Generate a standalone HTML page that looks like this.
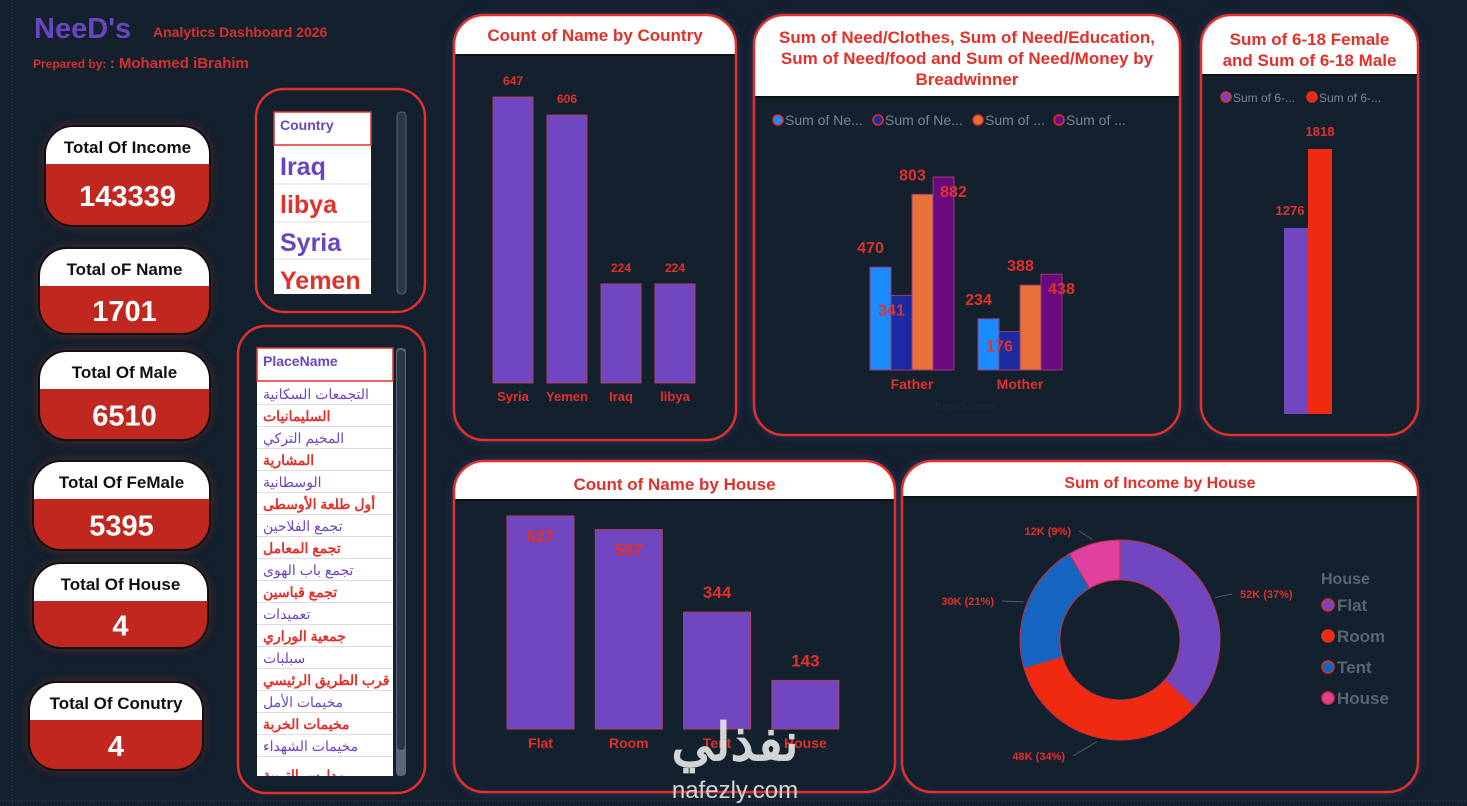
<!DOCTYPE html>
<html><head><meta charset="utf-8">
<style>
html,body{margin:0;padding:0;background:#13202d;width:1467px;height:806px;overflow:hidden;font-family:"Liberation Sans","Noto Sans CJK SC",sans-serif}
svg{display:block}
.t{font-family:"Liberation Sans","Noto Sans CJK SC",sans-serif;font-weight:bold}
</style></head>
<body>
<svg id="s" width="1467" height="806" viewBox="0 0 1467 806" xmlns="http://www.w3.org/2000/svg">
<defs>
<filter id="glow" x="-20%" y="-20%" width="140%" height="140%"><feGaussianBlur stdDeviation="5"/></filter>
</defs>
<rect x="0" y="0" width="1467" height="806" fill="#13202d"/>
<line x1="12" y1="0" x2="12" y2="806" stroke="#3a4a5a" stroke-dasharray="1 2"/>
<line x1="0" y1="801" x2="1467" y2="801" stroke="#3a4a5a" stroke-dasharray="1 2"/>

<!-- header -->
<g>
<line x1="372" y1="5" x2="372" y2="85" stroke="#c0302a" stroke-width="6" opacity="0.5" filter="url(#glow)"/>
<line x1="30" y1="90" x2="372" y2="90" stroke="#c0302a" stroke-width="6" opacity="0.5" filter="url(#glow)"/>
<text x="34" y="38" class="t" font-size="29" fill="#6a45c2">NeeD's</text>
<text x="153" y="37" class="t" font-size="14" fill="#d8302a">Analytics Dashboard 2026</text>
<text x="33" y="68" class="t" font-size="12" fill="#d8302a">Prepared by: <tspan font-size="15">: Mohamed iBrahim</tspan></text>
</g>

<g id="kpis"></g>

<!-- country slicer -->
<g>
<rect x="256" y="89" width="169" height="223" rx="28" fill="#13202d" stroke="#e2302a" stroke-width="2.5"/>
<rect x="274" y="112" width="97" height="182" fill="#fff"/>
<rect x="274" y="112" width="97" height="33" fill="#fff" stroke="#e2302a" stroke-width="1.5"/>
<text x="280" y="130" class="t" font-size="14" fill="#6a45c2">Country</text>
<text x="280" y="175" class="t" font-size="25" fill="#6a45c2">Iraq</text>
<line x1="274" y1="184" x2="371" y2="184" stroke="#ddd"/>
<text x="280" y="213" class="t" font-size="25" fill="#e2302a">libya</text>
<line x1="274" y1="222" x2="371" y2="222" stroke="#ddd"/>
<text x="280" y="251" class="t" font-size="25" fill="#6a45c2">Syria</text>
<line x1="274" y1="259" x2="371" y2="259" stroke="#ddd"/>
<text x="280" y="289" class="t" font-size="25" fill="#e2302a">Yemen</text>
<rect x="397" y="112" width="9" height="182" rx="4" fill="#2a3744" stroke="#5a6874"/>
</g>

<!-- place slicer -->
<g>
<rect x="238" y="326" width="187" height="467" rx="28" fill="#13202d" stroke="#e2302a" stroke-width="2.5"/>
<rect x="257" y="348" width="136" height="428" fill="#fff"/>
<rect x="257" y="348" width="136" height="33" fill="#fff" stroke="#e2302a" stroke-width="1.5"/>
<text x="263" y="366" class="t" font-size="14" fill="#6a45c2">PlaceName</text>
<g id="places"></g>
<rect x="396" y="348" width="10" height="428" rx="4" fill="#5a6874"/>
<rect x="397" y="350" width="8" height="400" rx="4" fill="#2a3744"/>
</g>

<g id="charts"></g>

<!-- watermark -->
<g opacity="0.9">
<text x="735" y="760" text-anchor="middle" font-size="52" font-weight="bold" fill="#e8e8e8" font-family="'Liberation Sans','Noto Sans CJK SC',sans-serif">نفذلي</text>
<text x="735" y="798" text-anchor="middle" font-size="24" fill="#e8e8e8" font-family="'Liberation Sans',sans-serif">nafezly.com</text>
</g>
</svg>

<script>
const NS="http://www.w3.org/2000/svg";
const svg=document.getElementById('s');
function mk(tag,attrs,parent,txt){const e=document.createElementNS(NS,tag);for(const k in attrs)e.setAttribute(k,attrs[k]);if(txt!==undefined)e.textContent=txt;(parent||svg).appendChild(e);return e;}

// KPI cards
const kpiLabels=["Total Of Income","Total oF Name","Total Of Male","Total Of FeMale","Total Of House","Total Of Conutry"];
const kpiValues=["143339","1701","6510","5395","4","4"];
const kpiBoxes=[[45,126,165,100],[39,248,171,86],[39,351,171,89],[33,461,177,89],[33,563,175,85],[29,682,174,88]];
const kg=document.getElementById('kpis');
kpiLabels.forEach((l,i)=>{
  const [x,y,w,h]=kpiBoxes[i];
  const g=mk('g',{},kg);
  
  
  mk('rect',{x:x,y:y,width:w,height:h,rx:28,fill:'#c0302a',opacity:0.45,filter:'url(#glow)'},g);
  const cp='c'+i;
  const cl=mk('clipPath',{id:cp},g);mk('rect',{x:x,y:y,width:w,height:h,rx:28},cl);
  mk('rect',{x:x,y:y,width:w,height:h,fill:'#c0281f','clip-path':'url(#'+cp+')'},g);
  mk('rect',{x:x,y:y,width:w,height:38,fill:'#fff','clip-path':'url(#'+cp+')'},g);
  mk('rect',{x:x,y:y,width:w,height:h,rx:28,fill:'none',stroke:'#111',"stroke-width":2},g);
  const lt=mk('text',{x:x+w/2,y:y+27,'text-anchor':'middle','class':'t','font-size':17,fill:'#111'},g,l);
  
  
  const vt=mk('text',{x:x+w/2,y:y+38+(h-38)/2+11,'text-anchor':'middle','class':'t','font-size':29,fill:'#fff'},g,kpiValues[i]);
  
  
});

// places
const places=["التجمعات السكانية","السليمانيات","المخيم التركي","المشارية","الوسطانية","أول طلعة الأوسطى","تجمع الفلاحين","تجمع المعامل","تجمع باب الهوى","تجمع قباسين","تعميدات","جمعية الوراري","سبلبات","قرب الطريق الرئيسي","مخيمات الأمل","مخيمات الخربة","مخيمات الشهداء","مدارس التربية"];
const pg=document.getElementById('places');
places.forEach((p,i)=>{
  const y=383+i*22;
  if(y+20>776)return;
  mk('line',{x1:257,y1:y+21.5,x2:393,y2:y+21.5,stroke:'#ddd'},pg);
  const t=mk('text',{x:263,y:y+16,'font-size':14,fill:i%2?'#e2302a':'#6a45c2',direction:'rtl','text-anchor':'end','font-weight':i%2?'bold':'normal','font-family':"'Liberation Sans','Noto Sans CJK SC',sans-serif"},pg,p);
  
  
});
// cut-off last item
const lastT=mk('text',{x:263,y:780,'font-size':14,fill:'#e2302a',direction:'rtl','text-anchor':'end','font-weight':'bold','clip-path':'url(#plclip)'},pg,places[17]);


const plc=mk('clipPath',{id:'plclip'},pg);mk('rect',{x:257,y:763,width:136,height:13},plc);

const cg=document.getElementById('charts');
function panel(x,y,w,h,hh,title,lines,fs,name){
  const g=mk('g',{},cg);
  
  
  mk('rect',{x:x,y:y,width:w,height:h,rx:30,fill:'#4a4aa0',opacity:0.5,filter:'url(#glow)'},g);
  const id='p'+name;
  const cl=mk('clipPath',{id:id},g);mk('rect',{x:x,y:y,width:w,height:h,rx:30},cl);
  mk('rect',{x:x,y:y,width:w,height:h,fill:'#13202d','clip-path':'url(#'+id+')'},g);
  mk('rect',{x:x,y:y,width:w,height:hh,fill:'#fff','clip-path':'url(#'+id+')'},g);
  mk('line',{x1:x,y1:y+hh,x2:x+w,y2:y+hh,stroke:'#111','stroke-width':2},g);
  mk('rect',{x:x,y:y,width:w,height:h,rx:30,fill:'none',stroke:'#e2302a','stroke-width':2.5},g);
  lines.forEach((l,i)=>{
    const t=mk('text',{x:x+w/2,y:title+i*21,'text-anchor':'middle','class':'t','font-size':fs,fill:'#e2302a'},g,l);
    
    
  });
  return g;
}

// Chart 1: Count of Name by Country
const c1Cats=["Syria","Yemen","Iraq","libya"];
const c1Vals=[647,606,224,224];
{
  const g=panel(454,15,282,425,40,41,["Count of Name by Country"],17,'chart-count-by-country');
  const base=383,scale=286/647,x0=493,step=54,bw=40;
  const y=v=>base-v*scale;
  c1Cats.forEach((c,i)=>{
    const x=x0+i*step;
    const b=mk('rect',{x:x,y:y(c1Vals[i]),width:bw,height:base-y(c1Vals[i]),fill:'#7047c0',stroke:'#b04060','stroke-width':1},g);
    
    
    mk('text',{x:x+bw/2,y:y(c1Vals[i])-12,'text-anchor':'middle','class':'t','font-size':12,fill:'#e2302a'},g,c1Vals[i]);
    mk('text',{x:x+bw/2,y:base+18,'text-anchor':'middle','class':'t','font-size':13,fill:'#e2302a'},g,c);
  });
}

// Chart 2: Needs by Breadwinner
const c2Cats=["Father","Mother"];
const c2Clothes=[470,234];
const c2Education=[341,176];
const c2Food=[803,388];
const c2Money=[882,438];
{
  const g=panel(754,15,426,420,82,43,["Sum of Need/Clothes, Sum of Need/Education,","Sum of Need/food and Sum of Need/Money by","Breadwinner"],17,'chart-needs-by-breadwinner');
  const cols=['#1a8cff','#1a2aa0','#e8703a','#6a0a80'];
  const leg=['Sum of Ne...','Sum of Ne...','Sum of ...','Sum of ...'];
  const lx=[778,878,978,1059];
  leg.forEach((l,i)=>{
    const c=mk('circle',{cx:lx[i],cy:120,r:5,fill:cols[i],stroke:'#e2302a','stroke-width':1.5},g);
    
    
    mk('text',{x:lx[i]+7,y:125,'font-size':14,fill:'#7a8590'},g,l);
  });
  const series=[c2Clothes,c2Education,c2Food,c2Money];
  const base=370,scale=193/882,gx=[870,978],bw=21;
  const y=v=>base-v*scale;
  const lblOff=[[-10,-14],[-10,20],[-10,-14],[10,20]];
  c2Cats.forEach((c,ci)=>{
    series.forEach((s,si)=>{
      const x=gx[ci]+si*bw;
      const b=mk('rect',{x:x,y:y(s[ci]),width:bw,height:base-y(s[ci]),fill:cols[si],stroke:'#9a3a70','stroke-width':1},g);
      
      
    });
    series.forEach((s,si)=>{
      const x=gx[ci]+si*bw;
      mk('text',{x:x+bw/2+lblOff[si][0],y:y(s[ci])+lblOff[si][1],'text-anchor':'middle','class':'t','font-size':16,fill:'#e2302a'},g,s[ci]);
    });
    mk('text',{x:gx[ci]+2*bw,y:base+19,'text-anchor':'middle','class':'t','font-size':14,fill:'#e2302a'},g,c);
  });
  mk('text',{x:966,y:410,'text-anchor':'middle','font-size':11,fill:'#1c2a38'},g,'Breadwinner');
}

// Chart 3: 6-18 Female / Male
const c3Names=["Female","Male"];
const c3Vals=[1276,1818];
{
  const g=panel(1201,15,217,420,60,45,["Sum of 6-18 Female","and Sum of 6-18 Male"],17,'chart-6-18-gender');
  const cols=['#7047c0','#f02a10'];
  [[1226,'Sum of 6-...'],[1312,'Sum of 6-...']].forEach((l,i)=>{
    const c=mk('circle',{cx:l[0],cy:97,r:5,fill:cols[i],stroke:'#e2302a','stroke-width':1.5},g);
    
    
    mk('text',{x:l[0]+7,y:102,'font-size':12,fill:'#7a8590'},g,l[1]);
  });
  const base=414,scale=265/1818,x0=1284,bw=24;
  const y=v=>base-v*scale;
  c3Vals.forEach((v,i)=>{
    const b=mk('rect',{x:x0+i*bw,y:y(v),width:bw,height:base-y(v),fill:cols[i]},g);
    
    
  });
  mk('text',{x:x0+bw/2-6,y:y(c3Vals[0])-13,'text-anchor':'middle','class':'t','font-size':13,fill:'#e2302a'},g,c3Vals[0]);
  mk('text',{x:x0+bw*1.5,y:y(c3Vals[1])-13,'text-anchor':'middle','class':'t','font-size':13,fill:'#e2302a'},g,c3Vals[1]);
}

// Chart 4: Count of Name by House
const c4Cats=["Flat","Room","Tent","House"];
const c4Vals=[627,587,344,143];
{
  const g=panel(454,461,441,331,39,490,["Count of Name by House"],17,'chart-count-by-house');
  const base=729,scale=213/627,x0=507,step=88.3,bw=67;
  const y=v=>base-v*scale;
  c4Cats.forEach((c,i)=>{
    const x=x0+i*step,v=c4Vals[i];
    const b=mk('rect',{x:x,y:y(v),width:bw,height:base-y(v),fill:'#7047c0',stroke:'#b04060','stroke-width':1},g);
    
    
    const inside=v>500;
    mk('text',{x:x+bw/2,y:inside?y(v)+26:y(v)-14,'text-anchor':'middle','class':'t','font-size':17,fill:'#e2302a'},g,v);
    mk('text',{x:x+bw/2,y:base+19,'text-anchor':'middle','class':'t','font-size':14,fill:'#e2302a'},g,c);
  });
}

// Chart 5: donut
const c5Cats=["Flat","Room","Tent","House"];
const c5Vals=[52,48,30,12];
const c5Labels=["52K (37%)","48K (34%)","30K (21%)","12K (9%)"];
{
  const g=panel(902,461,516,331,36,488,["Sum of Income by House"],16,'chart-income-by-house');
  const cols=['#7047c0','#f02a10','#1565c0','#e040a0'];
  const cx=1120,cy=640,R=100,r=60;
  const tot=c5Vals.reduce((a,b)=>a+b,0);
  let a0=-Math.PI/2;
  const lblPos=[[1240,598,'start'],[1065,760,'end'],[994,605,'end'],[1071,535,'end']];
  c5Vals.forEach((v,i)=>{
    const a1=a0+v/tot*2*Math.PI;
    const large=(a1-a0)>Math.PI?1:0;
    const p=(ang,rad)=>[cx+rad*Math.cos(ang),cy+rad*Math.sin(ang)];
    const [x1,y1]=p(a0,R),[x2,y2]=p(a1,R),[x3,y3]=p(a1,r),[x4,y4]=p(a0,r);
    const s=mk('path',{d:`M${x1},${y1}A${R},${R} 0 ${large} 1 ${x2},${y2}L${x3},${y3}A${r},${r} 0 ${large} 0 ${x4},${y4}Z`,fill:cols[i],stroke:'#c03040','stroke-width':1},g);
    
    
    const am=(a0+a1)/2;const [ex,ey]=p(am,R+4);
    const lp=lblPos[i];
    mk('polyline',{points:`${ex},${ey} ${lp[0]+(lp[2]=='start'?-8:8)},${lp[1]-4}`,fill:'none',stroke:'#556',"stroke-width":1},g);
    mk('text',{x:lp[0],y:lp[1],'text-anchor':lp[2],'class':'t','font-size':11,fill:'#e2302a'},g,c5Labels[i]);
    a0=a1;
  });
  mk('text',{x:1321,y:584,'class':'t','font-size':16,fill:'#5a6470'},g,'House');
  c5Cats.forEach((c,i)=>{
    const yy=605+i*31;
    const d=mk('circle',{cx:1328,cy:yy,r:6,fill:cols[i],stroke:'#e2302a','stroke-width':1.5},g);
    
    
    mk('text',{x:1337,y:yy+6,'class':'t','font-size':17,fill:'#5a6470'},g,c);
  });
}
</script>
</body></html>
